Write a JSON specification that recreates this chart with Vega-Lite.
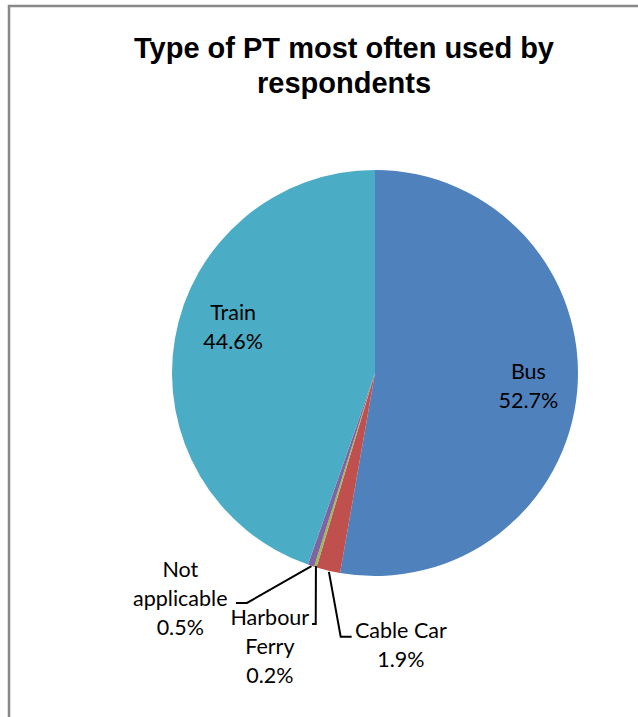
{
  "$schema": "https://vega.github.io/schema/vega-lite/v6.json",
  "width": 732,
  "height": 734,
  "padding": {"left": 9, "top": 6, "right": 0, "bottom": 0},
  "autosize": {"type": "pad"},
  "background": "white",
  "title": {
    "text": ["Type of PT most often used by", "respondents"],
    "anchor": "middle",
    "frame": "group",
    "font": "Liberation Sans",
    "fontSize": 29,
    "fontWeight": "bold",
    "color": "#000000",
    "lineHeight": 35,
    "offset": -93,
    "dx": -31
  },
  "config": {"view": {"stroke": "#888888", "strokeWidth": 2.5}},
  "data": {
    "values": [
      {"cat": "Bus", "value": 52.7, "o": 1, "label": "Bus\n52.7%"},
      {"cat": "Cable Car", "value": 1.9, "o": 2, "label": "Cable Car\n1.9%"},
      {"cat": "Harbour Ferry", "value": 0.2, "o": 3, "label": "Harbour\nFerry\n0.2%"},
      {"cat": "Not applicable", "value": 0.5, "o": 4, "label": "Not\napplicable\n0.5%"},
      {"cat": "Train", "value": 44.6, "o": 5, "label": "Train\n44.6%"}
    ]
  },
  "layer": [
    {
      "mark": {"type": "arc", "radius": 203},
      "encoding": {
        "theta": {"field": "value", "type": "quantitative", "stack": true},
        "order": {"field": "o", "type": "quantitative"},
        "color": {
          "field": "cat",
          "type": "nominal",
          "scale": {
            "domain": ["Bus", "Cable Car", "Harbour Ferry", "Not applicable", "Train"],
            "range": ["#4F81BD", "#C0504D", "#9BBB59", "#8064A2", "#4BACC6"]
          },
          "legend": null
        }
      }
    },
    {
      "data": {
        "values": [
          {"seg": "cc", "i": 0, "x": -0.227, "y": 0.980},
          {"seg": "cc", "i": 1, "x": -0.169, "y": 1.299},
          {"seg": "cc", "i": 2, "x": -0.115, "y": 1.299},
          {"seg": "hf", "i": 0, "x": -0.291, "y": 0.951},
          {"seg": "hf", "i": 1, "x": -0.292, "y": 1.236},
          {"seg": "hf", "i": 2, "x": -0.310, "y": 1.236},
          {"seg": "na", "i": 0, "x": -0.313, "y": 0.951},
          {"seg": "na", "i": 1, "x": -0.631, "y": 1.133},
          {"seg": "na", "i": 2, "x": -0.685, "y": 1.133}
        ]
      },
      "mark": {"type": "line", "color": "#000000", "strokeWidth": 2},
      "encoding": {
        "x": {"field": "x", "type": "quantitative", "scale": {"domain": [-1.803, 1.803], "nice": false, "zero": false}, "axis": null},
        "y": {"field": "y", "type": "quantitative", "scale": {"domain": [-1.808, 1.808], "nice": false, "zero": false, "reverse": true}, "axis": null},
        "detail": {"field": "seg", "type": "nominal"},
        "order": {"field": "i", "type": "quantitative"}
      }
    },
    {
      "mark": {"type": "text", "radius": 154, "dy": -13, "font": "Lato", "fontSize": 21.5, "lineBreak": "\n", "lineHeight": 29, "align": "center", "baseline": "middle", "color": "#000000"},
      "encoding": {
        "theta": {"field": "value", "type": "quantitative", "stack": true},
        "order": {"field": "o", "type": "quantitative"},
        "text": {"condition": {"test": "datum.cat === 'Bus'", "field": "label", "type": "nominal"}, "value": ""}
      }
    },
    {
      "mark": {"type": "text", "radius": 150, "dx": 6, "dy": -34, "font": "Lato", "fontSize": 21.5, "lineBreak": "\n", "lineHeight": 29, "align": "center", "baseline": "middle", "color": "#000000"},
      "encoding": {
        "theta": {"field": "value", "type": "quantitative", "stack": true},
        "order": {"field": "o", "type": "quantitative"},
        "text": {"condition": {"test": "datum.cat === 'Train'", "field": "label", "type": "nominal"}, "value": ""}
      }
    },
    {
      "mark": {"type": "text", "radius": 278, "dx": 90, "dy": -12, "font": "Lato", "fontSize": 21.5, "lineBreak": "\n", "lineHeight": 29, "align": "center", "baseline": "middle", "color": "#000000"},
      "encoding": {
        "theta": {"field": "value", "type": "quantitative", "stack": true},
        "order": {"field": "o", "type": "quantitative"},
        "text": {"condition": {"test": "datum.cat === 'Cable Car'", "field": "label", "type": "nominal"}, "value": ""}
      }
    },
    {
      "mark": {"type": "text", "radius": 286, "dx": -21, "dy": -27, "font": "Lato", "fontSize": 21.5, "lineBreak": "\n", "lineHeight": 29, "align": "center", "baseline": "middle", "color": "#000000"},
      "encoding": {
        "theta": {"field": "value", "type": "quantitative", "stack": true},
        "order": {"field": "o", "type": "quantitative"},
        "text": {"condition": {"test": "datum.cat === 'Harbour Ferry'", "field": "label", "type": "nominal"}, "value": ""}
      }
    },
    {
      "mark": {"type": "text", "radius": 237, "dx": -120, "dy": -27, "font": "Lato", "fontSize": 21.5, "lineBreak": "\n", "lineHeight": 29, "align": "center", "baseline": "middle", "color": "#000000"},
      "encoding": {
        "theta": {"field": "value", "type": "quantitative", "stack": true},
        "order": {"field": "o", "type": "quantitative"},
        "text": {"condition": {"test": "datum.cat === 'Not applicable'", "field": "label", "type": "nominal"}, "value": ""}
      }
    }
  ]
}
